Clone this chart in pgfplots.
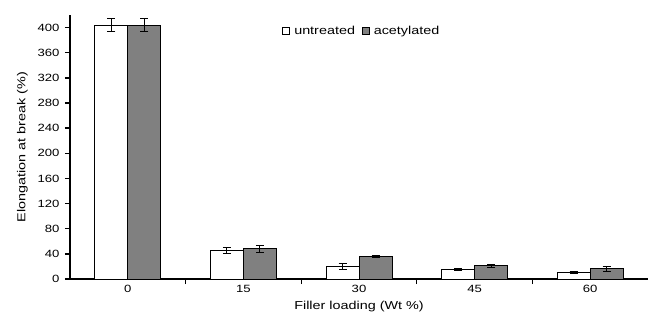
\documentclass[border=0pt]{standalone}
\usepackage{pgfplots}
\pgfplotsset{compat=1.18}
\usepackage{fontspec}
\setmainfont{Liberation Sans}[FakeStretch=1.25]
\definecolor{acet}{RGB}{128,128,128}
\begin{document}
\begin{tikzpicture}
\begin{axis}[
  scale only axis,
  width=578pt, height=264pt,
  xmin=-0.5, xmax=4.5,
  ymin=0, ymax=420,
  axis x line*=bottom,
  axis y line*=left,
  axis line style={line width=1.3pt},
  ytick={0,40,...,400},
  xtick={0.5,1.5,2.5,3.5},
  xticklabels={},
  extra x ticks={0,1,2,3,4},
  extra x tick labels={0,15,30,45,60},
  extra x tick style={major tick length=0pt},
  xtick style={black, line width=1.3pt},
  ytick style={black, line width=1.3pt},
  major tick length=5pt,
  tick align=outside,
  /pgf/number format/assume math mode=true,
  tick label style={font=\fontsize{10.5}{12}\selectfont},
  yticklabel style={xshift=-2pt},
  xticklabel style={yshift=-3pt},
  xlabel={Filler loading (Wt \%)},
  ylabel={Elongation at break (\%)},
  label style={font=\fontsize{11.5}{13}\selectfont},
  xlabel style={yshift=4pt},
  ylabel style={yshift=3pt},
  ybar=0pt,
  bar width=33pt,
  legend style={draw=none, fill=none, at={(0.505,0.94)}, anchor=center,
    legend columns=2, font=\fontsize{11.5}{13}\selectfont,
    /tikz/every even column/.append style={column sep=5pt}},
  legend image code/.code={\draw[#1, line width=0.8pt] (0pt,-3.5pt) rectangle (7pt,3.5pt);},
  legend cell align=left,
  error bars/error bar style={line width=1pt, black},
  error bars/error mark options={rotate=90, mark size=4pt, line width=1pt, black},
]
\addplot+[fill=white, draw=black, line width=1pt,
  error bars/.cd, y dir=both, y explicit]
  coordinates {(0,404) +- (0,11) (1,45) +- (0,5) (2,20) +- (0,5) (3,15.5) +- (0,2) (4,10) +- (0,2)};
\addplot+[fill=acet, draw=black, line width=1pt,
  error bars/.cd, y dir=both, y explicit]
  coordinates {(0,404) +- (0,11) (1,48) +- (0,6) (2,36) +- (0,2) (3,21) +- (0,2) (4,16) +- (0,4)};
\legend{\hspace{2pt}untreated, \hspace{2pt}acetylated}
\end{axis}
\path ([xshift=-70pt,yshift=-48pt]current axis.south west) rectangle ([xshift=4pt,yshift=15pt]current axis.north east);
\end{tikzpicture}
\end{document}
